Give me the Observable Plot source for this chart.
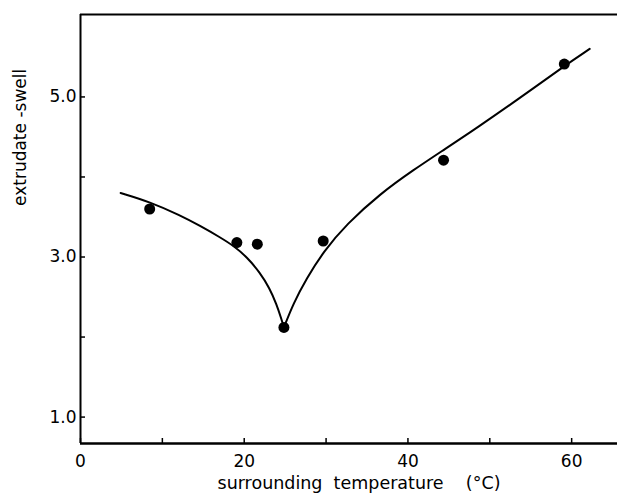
<!DOCTYPE html>
<html><head><meta charset="utf-8">
<script src="https://cdn.jsdelivr.net/npm/d3@7"></script>
<script src="https://cdn.jsdelivr.net/npm/@observablehq/plot@0.6"></script>
<style>body{margin:0;background:#fff}</style>
</head><body><div id="chart"></div>
<script>
// measured points: temperature (°C) vs extrudate-swell
const temps = [8.45, 19.1, 21.6, 24.85, 29.65, 44.35, 59.1];
const swell = [3.60, 3.18, 3.16, 2.12, 3.20, 4.21, 5.41];
// fitted curve (two branches meeting at a cusp)
const leftT = [4.9, 8.45, 12.2, 14.6, 17.0, 18.85, 20.3, 21.9, 23.1, 23.95, 24.56, 24.85];
const leftS = [3.80, 3.69, 3.52, 3.39, 3.25, 3.13, 3.00, 2.81, 2.61, 2.41, 2.22, 2.12];
const rightT = [24.85, 26.0, 27.6, 29.7, 32.5, 36.6, 40.7, 44.4, 48.8, 52.9, 59.0, 62.2];
const rightS = [2.12, 2.42, 2.73, 3.07, 3.41, 3.79, 4.09, 4.34, 4.64, 4.93, 5.38, 5.60];
const xTicks = [0, 10, 20, 30, 40, 50, 60];
const xLabels = [0, 20, 40, 60];
const yTicks = [1, 2, 3, 4, 5];
const yLabels = [1, 3, 5];
const xDomain = [0, 65.6];
const yDomain = [0.67, 6.03];

const pts = temps.map((t, i) => ({t, s: swell[i]}));
const left = leftT.map((t, i) => ({t, s: leftS[i]}));
const right = rightT.map((t, i) => ({t, s: rightS[i]}));

const font = "'DejaVu Sans', sans-serif";
const chart = Plot.plot({
  width: 617, height: 498,
  marginLeft: 80, marginRight: 0, marginTop: 14, marginBottom: 55,
  style: {fontFamily: font, fontSize: "17px", color: "#000", background: "#fff"},
  x: {domain: xDomain},
  y: {domain: yDomain},
  marks: [
    Plot.axisX({ticks: xTicks, tickSize: -5, tickPadding: 16, strokeWidth: 1.5,
      tickFormat: d => xLabels.includes(d) ? String(d) : "", label: null, fontSize: 17}),
    Plot.axisY({ticks: yTicks, tickSize: -5, tickPadding: 9, strokeWidth: 1.5,
      tickFormat: d => yLabels.includes(d) ? d.toFixed(1) : "", label: null, fontSize: 17}),
    Plot.ruleX([xDomain[0]], {stroke: "#000", strokeWidth: 2}),
    Plot.ruleY([yDomain[0]], {stroke: "#000", strokeWidth: 2.5}),
    Plot.ruleY([yDomain[1]], {stroke: "#000", strokeWidth: 2}),
    Plot.line(left, {x: "t", y: "s", curve: "basis", stroke: "#000", strokeWidth: 2}),
    Plot.line(right, {x: "t", y: "s", curve: "basis", stroke: "#000", strokeWidth: 2}),
    Plot.dot(pts, {x: "t", y: "s", r: 5.5, fill: "#000"}),
    Plot.text(["surrounding\u00a0\u00a0temperature\u00a0\u00a0\u00a0\u00a0(°C)"], {frameAnchor: "bottom", dy: 45, dx: 10, fontSize: 17.5, fill: "#000"}),
    Plot.text(["extrudate -swell"], {frameAnchor: "left", dx: -60, dy: -23, rotate: -90, fontSize: 17, fill: "#000"})
  ]
});
document.getElementById("chart").append(chart);
</script>
</body></html>
